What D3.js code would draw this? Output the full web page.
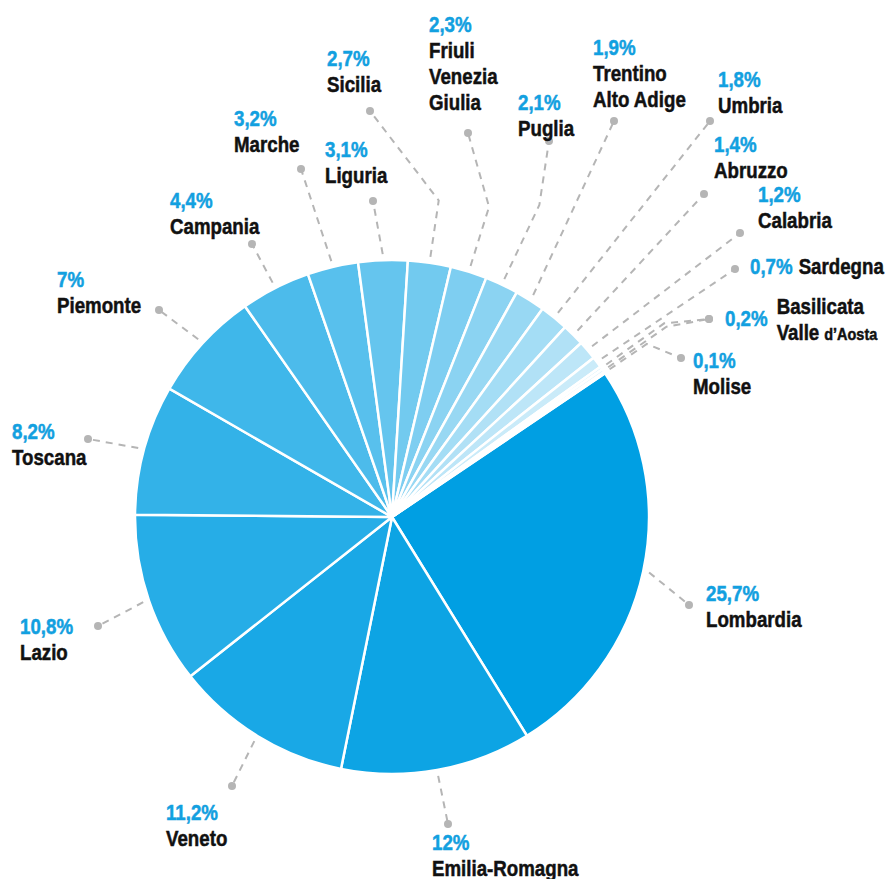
<!DOCTYPE html>
<html>
<head>
<meta charset="utf-8">
<script src="https://cdn.jsdelivr.net/npm/d3@7"></script>
<style>
  html, body { margin: 0; padding: 0; background: #fff; }
  svg { display: block; }
  text { font-family: "Liberation Sans", Arial, sans-serif; font-weight: bold; font-size: 22px; stroke-width: 0.5px; }
</style>
</head>
<body>
<svg class="svg" width="891" height="879"></svg>
<script>
// regional shares (%), clockwise from Lombardia
const regions = ['Lombardia', 'Emilia-Romagna', 'Veneto', 'Lazio', 'Toscana', 'Piemonte',
  'Campania', 'Marche', 'Liguria', 'Sicilia', 'Friuli Venezia Giulia', 'Puglia',
  'Trentino Alto Adige', 'Umbria', 'Abruzzo', 'Calabria', 'Sardegna', 'Basilicata',
  "Valle d'Aosta", 'Molise'];
const shares = [25.7, 12, 11.2, 10.8, 8.2, 7, 4.4, 3.2, 3.1, 2.7, 2.3, 2.1, 1.9, 1.8, 1.4, 1.2, 0.7, 0.2, 0.2, 0.1];

// label placement (layout only)
const labelLayout = {
  'Lombardia': { dot: [689, 605], text: [706, 601], lines: ['Lombardia'] },
  'Emilia-Romagna': { dot: [448, 824], text: [432, 850], lines: ['Emilia-Romagna'] },
  'Veneto': { dot: [232, 786], text: [166, 820], lines: ['Veneto'] },
  'Lazio': { dot: [98, 626], text: [20, 634], lines: ['Lazio'] },
  'Toscana': { dot: [88, 439], text: [12, 439], lines: ['Toscana'] },
  'Piemonte': { dot: [159, 310], text: [57, 287], lines: ['Piemonte'] },
  'Campania': { dot: [252, 244], text: [170, 208], lines: ['Campania'] },
  'Marche': { dot: [301, 169], text: [234, 126], lines: ['Marche'] },
  'Liguria': { dot: [373, 201], text: [325, 157], lines: ['Liguria'] },
  'Sicilia': { dot: [370, 111], elbow: 320, text: [327, 66], lines: ['Sicilia'] },
  'Friuli Venezia Giulia': { dot: [468, 133], elbow: 325, text: [429, 32], lines: ['Friuli', 'Venezia', 'Giulia'] },
  'Puglia': { dot: [549, 141], elbow: 345, text: [518, 110], lines: ['Puglia'] },
  'Trentino Alto Adige': { dot: [614, 121], text: [593, 55], lines: ['Trentino', 'Alto Adige'] },
  'Umbria': { dot: [710, 121], text: [718, 87], lines: ['Umbria'] },
  'Abruzzo': { dot: [704, 194], text: [714, 152], lines: ['Abruzzo'] },
  'Calabria': { dot: [740, 233], text: [758, 202], lines: ['Calabria'] },
  'Sardegna': { dot: [735, 269], text: [750, 274], inline: 'Sardegna' },
  'Basilicata': { dot: [709, 319], elbow: 334, text: [725, 326], side: true },
  "Valle d'Aosta": { dot: [709, 319], elbow: 334 },
  'Molise': { dot: [681, 358], elbow: 308, text: [693, 368], lines: ['Molise'] }
};

const cx = 392;
const cy = 517;
const radius = 257;
const startAngle = 56 * Math.PI / 180;
const squeeze = 0.85; // condensed look

const svg = d3.select('.svg');
const g = svg.append('g').attr('transform', `translate(${cx},${cy})`);

const pie = d3.pie().sort(null).value(d => d.v)
  .startAngle(startAngle).endAngle(startAngle + 2 * Math.PI);
const arcs = pie(regions.map((r, i) => ({ r, v: shares[i] })));

const color = d3.scaleLinear().domain([0, regions.length - 1])
  .range(['#009fe3', '#f0f9fd']).interpolate(d3.interpolateRgb);

const arc = d3.arc().innerRadius(0).outerRadius(radius);

g.selectAll('path.slice').data(arcs).enter().append('path')
  .attr('class', 'slice')
  .attr('d', arc)
  .style('fill', (d, i) => color(i))
  .style('stroke', '#fff')
  .style('stroke-width', 2.5)
  .style('stroke-linejoin', 'round');

function polar(a, r) {
  return [r * Math.sin(a), -r * Math.cos(a)];
}

// leader lines
const lines = svg.append('g');
arcs.forEach(d => {
  const lay = labelLayout[d.data.r];
  const mid = (d.startAngle + d.endAngle) / 2;
  const p0 = polar(mid, radius + 6);
  const pts = [[cx + p0[0], cy + p0[1]]];
  if (lay.elbow) {
    const pe = polar(mid, lay.elbow);
    pts.push([cx + pe[0], cy + pe[1]]);
  }
  pts.push(lay.dot);
  lines.append('path')
    .attr('d', d3.line()(pts))
    .style('fill', 'none')
    .style('stroke', '#b5b5b5')
    .style('stroke-width', 2)
    .style('stroke-dasharray', '7,6');
  lines.append('circle')
    .attr('cx', lay.dot[0])
    .attr('cy', lay.dot[1])
    .attr('r', 4)
    .style('fill', '#b5b5b5');
});

// squeeze a text horizontally, returns its new width
function condense(t) {
  const w = t.node().getComputedTextLength() * squeeze;
  t.attr('textLength', w).attr('lengthAdjust', 'spacingAndGlyphs');
  return w;
}

function addText(x, y, str, fill) {
  return labels.append('text')
    .attr('x', x)
    .attr('y', y)
    .style('fill', fill)
    .style('stroke', fill)
    .text(str);
}

// labels
const fmt = v => String(v).replace('.', ',') + '%';
const labels = svg.append('g');
arcs.forEach(d => {
  const lay = labelLayout[d.data.r];
  if (!lay.text) return;
  const tw = condense(addText(lay.text[0], lay.text[1], fmt(d.data.v), '#12a0e0'));
  if (lay.lines) {
    lay.lines.forEach((ln, k) => {
      condense(addText(lay.text[0], lay.text[1] + 26 * (k + 1), ln, '#111'));
    });
  }
  if (lay.inline) {
    condense(addText(lay.text[0] + tw + 6, lay.text[1], lay.inline, '#111'));
  }
  if (lay.side) {
    const x = lay.text[0] + tw + 9;
    condense(addText(x, lay.text[1] - 12, 'Basilicata', '#111'));
    const vw = condense(addText(x, lay.text[1] + 14, 'Valle', '#111'));
    condense(addText(x + vw + 5, lay.text[1] + 14, 'd\u2019Aosta', '#111')
      .style('font-size', '17px'));
  }
});
</script>
</body>
</html>
